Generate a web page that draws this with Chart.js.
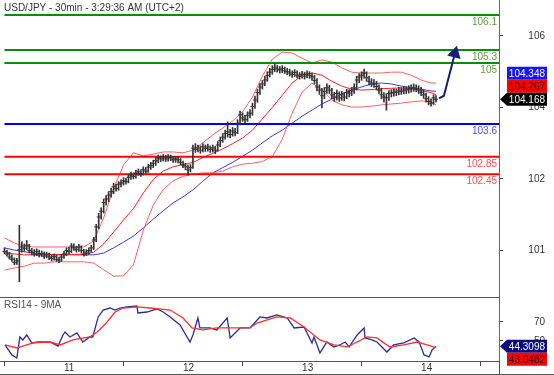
<!DOCTYPE html>
<html>
<head>
<meta charset="utf-8">
<title>USD/JPY 30min</title>
<script src="https://cdn.jsdelivr.net/npm/chart.js@4.4.1/dist/chart.umd.min.js"></script>
<style>
  body { margin: 0; background: #fff; }
</style>
</head>
<body>
<canvas id="chart" width="554" height="375"></canvas>
<script>
const title = "USD/JPY - 30min - 3:29:36 AM (UTC+2)";
const rsiTitle = "RSI14 - 9MA";

// x unit = hours counted from the 10th 00:00, one bar every half hour
const firstBarHour = 12;
const barStep = 0.5;
const xMin = 11.1, xMax = 111.7;

const closes = [
  100.68, 100.62, 100.55, 100.50, 100.42, 100.46, 100.72, 100.78, 100.75, 100.82,
  100.70, 100.66, 100.62, 100.68, 100.60, 100.63, 100.57, 100.60, 100.55, 100.52,
  100.56, 100.50, 100.48, 100.55, 100.62, 100.70, 100.68, 100.80, 100.76, 100.72,
  100.78, 100.70, 100.62, 100.66, 100.70, 100.76, 100.94, 101.24, 101.47, 101.60,
  101.80, 101.88, 101.97, 102.05, 102.16, 102.12, 102.22, 102.25, 102.30, 102.28,
  102.38, 102.43, 102.40, 102.47, 102.50, 102.46, 102.55, 102.52, 102.61, 102.65,
  102.70, 102.76, 102.82, 102.80, 102.84, 102.80, 102.84, 102.82, 102.78, 102.80,
  102.78, 102.72, 102.66, 102.62, 102.55, 102.60, 103.05, 103.02, 103.05, 103.00,
  103.08, 103.04, 103.07, 103.02, 103.05, 103.00, 103.12, 103.22, 103.30, 103.38,
  103.42, 103.36, 103.44, 103.40, 103.62, 103.81, 103.74, 103.70, 103.80, 103.85,
  104.00, 104.15, 104.32, 104.45, 104.52, 104.61, 104.72, 104.79, 104.85, 104.89,
  104.86, 104.84, 104.87, 104.82, 104.80, 104.77, 104.74, 104.78, 104.72, 104.70,
  104.74, 104.70, 104.75, 104.72, 104.68, 104.60, 104.45, 104.38, 104.25, 104.35,
  104.43, 104.38, 104.27, 104.22, 104.30, 104.20, 104.27, 104.22, 104.33, 104.31,
  104.36, 104.43, 104.61, 104.68, 104.72, 104.77, 104.66, 104.58, 104.54, 104.52,
  104.46, 104.38, 104.27, 104.22, 104.20, 104.30, 104.31, 104.33, 104.33, 104.36,
  104.35, 104.38, 104.38, 104.40, 104.41, 104.43, 104.42, 104.38, 104.33, 104.27,
  104.18, 104.12, 104.08, 104.20, 104.168
];
const highs = [
  100.76, 100.71, 100.66, 100.60, 100.53, 100.52, 101.28, 100.90, 100.85, 100.93,
  100.84, 100.75, 100.72, 100.74, 100.71, 100.69, 100.67, 100.66, 100.64, 100.60,
  100.62, 100.59, 100.55, 100.61, 100.68, 100.76, 100.77, 100.86, 100.85, 100.80,
  100.84, 100.81, 100.73, 100.72, 100.76, 100.82, 101.00, 101.30, 101.55, 101.68,
  101.88, 101.96, 102.05, 102.13, 102.24, 102.22, 102.28, 102.32, 102.37, 102.36,
  102.45, 102.50, 102.48, 102.54, 102.57, 102.55, 102.62, 102.60, 102.68, 102.72,
  102.77, 102.83, 102.89, 102.87, 102.90, 102.88, 102.90, 102.89, 102.86, 102.86,
  102.85, 102.81, 102.75, 102.70, 102.66, 102.67, 103.12, 103.15, 103.12, 103.10,
  103.15, 103.12, 103.14, 103.10, 103.12, 103.09, 103.20, 103.30, 103.38, 103.46,
  103.65, 103.48, 103.52, 103.50, 103.70, 103.90, 103.86, 103.80, 103.88, 103.93,
  104.08, 104.24, 104.40, 104.53, 104.60, 104.70, 104.80, 104.88, 104.94, 104.98,
  104.95, 104.92, 104.94, 104.91, 104.88, 104.86, 104.82, 104.85, 104.82, 104.78,
  104.81, 104.79, 104.82, 104.80, 104.77, 104.72, 104.64, 104.50, 104.42, 104.44,
  104.52, 104.49, 104.42, 104.33, 104.38, 104.34, 104.35, 104.32, 104.40, 104.39,
  104.44, 104.52, 104.70, 104.76, 104.80, 104.86, 104.80, 104.70, 104.64, 104.62,
  104.58, 104.50, 104.42, 104.32, 104.30, 104.37, 104.39, 104.41, 104.40, 104.44,
  104.43, 104.46, 104.45, 104.48, 104.50, 104.52, 104.50, 104.48, 104.44, 104.38,
  104.31, 104.23, 104.18, 104.27, 104.25
];
const lows = [
  100.62, 100.57, 100.50, 100.45, 100.37, 100.38, 99.98, 100.66, 100.68, 100.72,
  100.64, 100.60, 100.57, 100.58, 100.55, 100.56, 100.52, 100.53, 100.49, 100.46,
  100.48, 100.45, 100.42, 100.45, 100.52, 100.58, 100.62, 100.65, 100.70, 100.66,
  100.68, 100.64, 100.57, 100.58, 100.61, 100.66, 100.72, 100.90, 101.20, 101.42,
  101.56, 101.74, 101.82, 101.92, 102.00, 102.06, 102.08, 102.16, 102.20, 102.22,
  102.25, 102.33, 102.34, 102.36, 102.42, 102.40, 102.43, 102.46, 102.49, 102.56,
  102.60, 102.65, 102.71, 102.74, 102.75, 102.74, 102.75, 102.76, 102.72, 102.72,
  102.71, 102.66, 102.60, 102.55, 102.43, 102.50, 102.58, 102.95, 102.96, 102.93,
  102.96, 102.97, 102.98, 102.95, 102.96, 102.92, 102.98, 103.08, 103.18, 103.25,
  103.30, 103.28, 103.32, 103.33, 103.38, 103.58, 103.66, 103.62, 103.66, 103.74,
  103.80, 103.96, 104.10, 104.28, 104.40, 104.48, 104.58, 104.68, 104.74, 104.80,
  104.79, 104.77, 104.78, 104.76, 104.73, 104.70, 104.67, 104.69, 104.66, 104.63,
  104.65, 104.63, 104.66, 104.65, 104.60, 104.52, 104.36, 104.28, 103.97, 104.18,
  104.30, 104.30, 104.18, 104.12, 104.15, 104.12, 104.14, 104.13, 104.18, 104.22,
  104.25, 104.30, 104.38, 104.55, 104.60, 104.65, 104.58, 104.50, 104.46, 104.44,
  104.38, 104.30, 104.18, 104.10, 103.92, 104.14, 104.22, 104.24, 104.25, 104.27,
  104.28, 104.29, 104.30, 104.31, 104.33, 104.35, 104.34, 104.30, 104.25, 104.19,
  104.10, 104.04, 104.01, 104.05, 104.10
];

// Bollinger bands and moving average, read every two hours
const bandHours = [
  12, 14, 16, 18, 20, 22, 24, 26, 28, 30, 32, 34, 36, 38, 40, 42, 44, 46, 48, 50,
  52, 54, 56, 58, 60, 62, 64, 66, 68, 70, 72, 74, 76, 78, 80, 82, 84, 86, 88, 90,
  92, 94, 96, 98, 99
];
const bbUpper = [
  100.99, 100.87, 100.80, 100.78, 100.78, 100.78, 100.78, 100.78, 100.78, 100.92,
  101.45, 102.12, 102.66, 102.94, 102.87, 102.91, 102.96, 102.96, 102.94, 103.00,
  103.17, 103.35, 103.51, 103.67, 103.88, 104.22, 104.70, 105.09, 105.25, 105.23,
  105.11, 105.00, 105.07, 105.02, 104.89, 104.79, 104.77, 104.77, 104.77, 104.79,
  104.79, 104.72, 104.61, 104.54, 104.54
];
const bbMiddle = [
  100.66, 100.62, 100.60, 100.60, 100.60, 100.61, 100.61, 100.61, 100.61, 100.66,
  100.85, 101.12, 101.40, 101.66, 102.02, 102.33, 102.52, 102.62, 102.67, 102.72,
  102.83, 102.93, 103.03, 103.15, 103.28, 103.46, 103.72, 103.98, 104.26, 104.54,
  104.72, 104.77, 104.72, 104.58, 104.47, 104.40, 104.38, 104.39, 104.41, 104.42,
  104.43, 104.41, 104.37, 104.32, 104.267
];
const bbLower = [
  100.25, 100.30, 100.34, 100.41, 100.41, 100.44, 100.44, 100.44, 100.44, 100.41,
  100.26, 100.11, 100.12, 100.37, 101.17, 101.74, 102.10, 102.30, 102.40, 102.45,
  102.48, 102.48, 102.52, 102.62, 102.68, 102.70, 102.74, 102.85, 103.25, 103.85,
  104.33, 104.54, 104.38, 104.15, 104.04, 103.99, 103.99, 104.01, 104.04, 104.06,
  104.08, 104.11, 104.13, 104.11, 104.04
];
const maLine = [
  100.76, 100.71, 100.67, 100.64, 100.62, 100.60, 100.60, 100.60, 100.60, 100.60,
  100.64, 100.76, 100.89, 101.03, 101.22, 101.42, 101.61, 101.79, 101.93, 102.09,
  102.29, 102.48, 102.60, 102.72, 102.86, 103.00, 103.17, 103.33, 103.46, 103.62,
  103.78, 103.92, 104.06, 104.17, 104.29, 104.38, 104.45, 104.52, 104.54, 104.52,
  104.47, 104.43, 104.40, 104.36, 104.348
];

const levels = [106.1, 105.3, 105, 103.6, 102.85, 102.45];
const levelColors = ['#0c8c0c', '#0c8c0c', '#0c8c0c', '#0000ee', '#ff0000', '#ff0000'];
const levelTextColors = ['#5f9f3a', '#5f9f3a', '#5f9f3a', '#5050ff', '#ff5050', '#ff5050'];

const arrowPath = [
  { x: 99.6, y: 104.19 },
  { x: 100.6, y: 104.25 },
  { x: 102.8, y: 105.22 }
];

const rsiHours = [
  12.1, 13.5, 14.5, 15.1, 15.7, 16.5, 17.5, 18.8, 21.2, 22.8, 23.8, 24.2, 25.2, 26.6,
  27.8, 29.2, 29.8, 30.9, 31.9, 33.3, 34.3, 35.3, 36.7, 38.7, 38.9, 40.7, 42.8, 44.0,
  45.4, 47.4, 49.4, 50.0, 51.0, 51.4, 53.4, 54.8, 56.9, 57.5, 59.5, 61.5, 63.5, 64.9,
  66.9, 69.0, 70.4, 72.4, 74.0, 74.4, 75.6, 77.0, 78.4, 79.6, 80.7, 81.5, 83.1, 84.5,
  84.7, 86.1, 87.1, 89.1, 90.5, 92.5, 94.6, 95.6, 96.6, 97.6, 98.2, 99.0
];
const rsiValues = [
  45.8, 35.3, 32.1, 54.2, 51.1, 56.3, 47.9, 48.9, 48.9, 44.7, 56.3, 59.5, 54.2, 58.4,
  48.9, 54.2, 54.2, 75.3, 82.6, 84.7, 82.6, 84.7, 85.8, 86.8, 79.5, 80.5, 83.7, 80.5,
  75.3, 66.8, 48.9, 56.3, 74.2, 63.7, 63.7, 61.6, 74.2, 53.2, 63.7, 63.7, 75.3, 74.2,
  77.4, 74.2, 63.7, 64.7, 47.9, 54.2, 37.4, 48.9, 43.7, 45.8, 48.9, 43.7, 56.3, 63.7,
  53.2, 51.1, 48.9, 38.4, 45.8, 47.9, 53.2, 48.9, 35.3, 33.2, 40.5, 44.3098
];
const rsiMaHours = [
  12.1, 14.5, 17.8, 21.2, 23.2, 25.8, 29.2, 30.7, 32.7, 34.3, 35.9, 38.7, 41.3, 45.4,
  48.0, 49.8, 52.0, 54.8, 58.1, 61.5, 62.9, 66.9, 69.6, 72.4, 75.6, 78.4, 81.1, 83.1,
  85.1, 87.1, 89.7, 92.5, 95.2, 97.2, 99.0
];
const rsiMaValues = [
  45.8, 42.6, 47.9, 48.9, 45.8, 51.1, 54.2, 59.5, 70.0, 80.5, 84.7, 85.8, 84.7, 82.6,
  74.2, 63.7, 61.6, 63.7, 63.7, 63.7, 68.9, 75.3, 74.2, 64.7, 51.1, 45.8, 43.7, 48.9,
  54.2, 53.2, 43.7, 45.8, 48.9, 45.8, 43.0482
];

const dayTicks = [24, 48, 72, 96];
const dayLabels = ['11', '12', '13', '14'];
const priceTicks = [100.71, 102.34, 103.98, 105.62];
const rsiTicks = [50, 70];

const FONT = "'Liberation Sans', Arial, sans-serif";
const barHours = closes.map((_, i) => firstBarHour + i * barStep);
const pts = (xs, ys) => xs.map((x, i) => ({ x, y: ys[i] }));
const last = arr => arr[arr.length - 1];

function arrowAngle(ctx) {
  const { x, y } = ctx.chart.scales;
  const a = arrowPath[arrowPath.length - 2], b = last(arrowPath);
  const dx = x.getPixelForValue(b.x) - x.getPixelForValue(a.x);
  const dy = y.getPixelForValue(b.y) - y.getPixelForValue(a.y);
  return Math.atan2(dx, -dy) * 180 / Math.PI;
}

function lineSet(data, color, width, axis) {
  return { type: 'line', data, borderColor: color, borderWidth: width, pointRadius: 0, tension: 0, yAxisID: axis };
}

function tag(ctx, yc, text, bg, fg, arrow, x0, x1) {
  const h = 13;
  ctx.fillStyle = bg;
  ctx.beginPath();
  if (arrow) {
    ctx.moveTo(x0, yc);
    ctx.lineTo(x0 + 7, yc - h / 2);
    ctx.lineTo(x1, yc - h / 2);
    ctx.lineTo(x1, yc + h / 2);
    ctx.lineTo(x0 + 7, yc + h / 2);
  } else {
    ctx.rect(x0 + 7, yc - h / 2, x1 - x0 - 7, h);
  }
  ctx.closePath();
  ctx.fill();
  ctx.fillStyle = fg;
  ctx.textAlign = 'right';
  ctx.textBaseline = 'middle';
  ctx.fillText(text, x1 - 2, yc + 0.5);
}

const overlay = {
  id: 'overlay',
  afterDatasetsDraw(chart) {
    const { ctx, chartArea: a, scales: { y, rsi } } = chart;
    ctx.save();
    ctx.font = '10px ' + FONT;
    ctx.textAlign = 'right';
    ctx.textBaseline = 'middle';
    levels.forEach((v, i) => {
      ctx.fillStyle = levelTextColors[i];
      ctx.fillText(String(v), a.right - 2, y.getPixelForValue(v) + 7.5);
    });
    ctx.textAlign = 'left';
    ctx.fillStyle = '#333';
    ctx.fillText(title, 4, 8);
    ctx.fillStyle = '#555';
    ctx.fillText(rsiTitle, 4, rsi.top + 8);

    ctx.strokeStyle = '#555';
    ctx.lineWidth = 1;
    ctx.beginPath();
    ctx.moveTo(a.left, Math.round(rsi.top) + 0.5);
    ctx.lineTo(a.right, Math.round(rsi.top) + 0.5);
    ctx.moveTo(0, chart.height - 0.5);
    ctx.lineTo(chart.width, chart.height - 0.5);
    ctx.moveTo(Math.round(a.right) + 0.5, a.bottom);
    ctx.lineTo(Math.round(a.right) + 0.5, chart.height);
    ctx.stroke();
    ctx.restore();
  },
  afterDraw(chart) {
    const { ctx, chartArea: a, scales: { y, rsi } } = chart;
    const x0 = a.right + 1, x1 = 547;
    ctx.save();
    ctx.font = '10px ' + FONT;
    const yc = y.getPixelForValue(last(closes));
    tag(ctx, yc - 26, last(maLine).toFixed(3), '#1414ff', '#fff', false, x0, x1);
    tag(ctx, yc - 13, last(bbMiddle).toFixed(3), '#ff0000', '#2a0000', false, x0, x1);
    tag(ctx, yc, last(closes).toFixed(3), '#000', '#fff', true, x0, x1);
    const rc = rsi.getPixelForValue(last(rsiValues));
    tag(ctx, rc, last(rsiValues).toFixed(4), '#0c0c80', '#fff', true, x0, x1);
    tag(ctx, rc + 13, last(rsiMaValues).toFixed(4), '#ff0000', '#2a0000', false, x0, x1);
    ctx.restore();
  }
};

const datasets = [
  {
    type: 'bar', yAxisID: 'y', grouped: false, barThickness: 1,
    data: barHours.map((x, i) => ({ x, y: [lows[i], highs[i]] })),
    backgroundColor: '#333'
  },
  {
    type: 'scatter', yAxisID: 'y', data: pts(barHours, closes),
    pointStyle: 'line', pointRadius: 2, borderColor: '#333', borderWidth: 1
  },
  {
    type: 'line', yAxisID: 'y', data: arrowPath, borderColor: '#1b1b78', borderWidth: 2,
    tension: 0, pointStyle: 'triangle', backgroundColor: '#1b1b78', pointBorderColor: '#1b1b78',
    pointRadius: ctx => ctx.dataIndex === arrowPath.length - 1 ? 6 : 0,
    rotation: arrowAngle
  },
  ...levels.map((v, i) => lineSet([{ x: firstBarHour, y: v }, { x: xMax, y: v }], levelColors[i], 2, 'y')),
  lineSet(pts(bandHours, bbUpper), '#ff6060', 1, 'y'),
  lineSet(pts(bandHours, bbMiddle), '#ff2020', 1, 'y'),
  lineSet(pts(bandHours, bbLower), '#ff6060', 1, 'y'),
  lineSet(pts(bandHours, maLine), '#3a3ad8', 1, 'y'),
  lineSet(pts(rsiMaHours, rsiMaValues), '#ff3030', 1.3, 'rsi'),
  lineSet(pts(rsiHours, rsiValues), '#2c2c96', 1.3, 'rsi')
];

const rightAxis = (weight, min, max, tickVals, fmt) => ({
  type: 'linear', position: 'right', stack: 'panes', stackWeight: weight, min, max,
  afterBuildTicks: s => { s.ticks = tickVals.map(v => ({ value: v })); },
  afterFit: s => { s.width = 46; s.paddingTop = 0; s.paddingBottom = 0; },
  grid: { drawOnChartArea: false, tickLength: 4, color: '#444' },
  border: { display: true, color: '#666' },
  ticks: { crossAlign: 'far', color: '#333', font: { family: FONT, size: 10 }, callback: fmt }
});

new Chart(document.getElementById('chart'), {
  type: 'line',
  data: { datasets },
  plugins: [overlay],
  options: {
    responsive: false,
    animation: false,
    events: [],
    layout: { autoPadding: false, padding: { left: 0, right: 9, top: 0, bottom: 0 } },
    plugins: { legend: { display: false }, tooltip: { enabled: false } },
    scales: {
      x: {
        type: 'linear', position: 'bottom', min: xMin, max: xMax, offset: false,
        afterBuildTicks: s => { s.ticks = dayTicks.map(v => ({ value: v })); },
        afterFit: s => { s.height = 14; s.paddingLeft = 0; s.paddingRight = 0; },
        grid: { drawOnChartArea: false, tickLength: 5, color: '#444' },
        border: { display: true, color: '#555' },
        ticks: {
          align: 'start', padding: -4, color: '#333', font: { family: FONT, size: 10 },
          callback: (v, i) => dayLabels[i]
        }
      },
      y: rightAxis(297, 99.633, 106.445, priceTicks, v => Math.round(v)),
      rsi: rightAxis(64, 28.9, 96.3, rsiTicks, v => v)
    }
  }
});
</script>
</body>
</html>
